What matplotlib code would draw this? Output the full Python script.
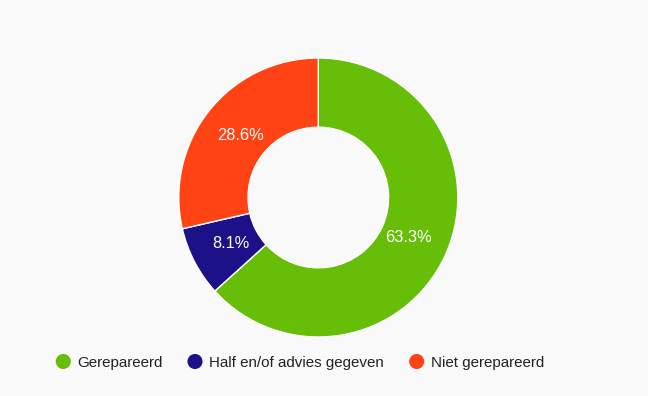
import matplotlib.pyplot as plt

plt.rcParams['font.family'] = ['Liberation Sans', 'DejaVu Sans']

# Data
labels = ['Gerepareerd', 'Half en/of advies gegeven', 'Niet gerepareerd']
shares = [63.3, 8.1, 28.6]
colors = ['#66be08', '#1c1186', '#ff4314']

# Figure in pixel units (648x396)
W, H = 648, 396
fig = plt.figure(figsize=(W / 100, H / 100), dpi=100, facecolor='#f9f9f9')
ax = fig.add_axes([0, 0, 1, 1])
ax.set_facecolor('#f9f9f9')

# Donut
cx, cy, radius = 318.3, H - 197.5, 139.5
wedges, texts, autotexts = ax.pie(
    shares,
    colors=colors,
    startangle=90,
    counterclock=False,
    center=(cx, cy),
    radius=radius,
    autopct='%.1f%%',
    pctdistance=0.71,
    wedgeprops=dict(width=radius * 0.496, edgecolor='white', linewidth=1),
    textprops=dict(color='white', fontsize=11.8),
    frame=True,
)
ax.set_xlim(0, W)
ax.set_ylim(0, H)
ax.axis('off')

# Legend
legend_y = H - 361.5
legend_x = [63.3, 195.0, 416.7]
for x, lab, col in zip(legend_x, labels, colors):
    ax.scatter([x], [legend_y], s=118, color=col, edgecolors='none')
    ax.text(x + 14, legend_y, lab, fontsize=10.9, color='#222222',
            va='center_baseline', ha='left')

fig.savefig('out.png', dpi=100, facecolor=fig.get_facecolor())
